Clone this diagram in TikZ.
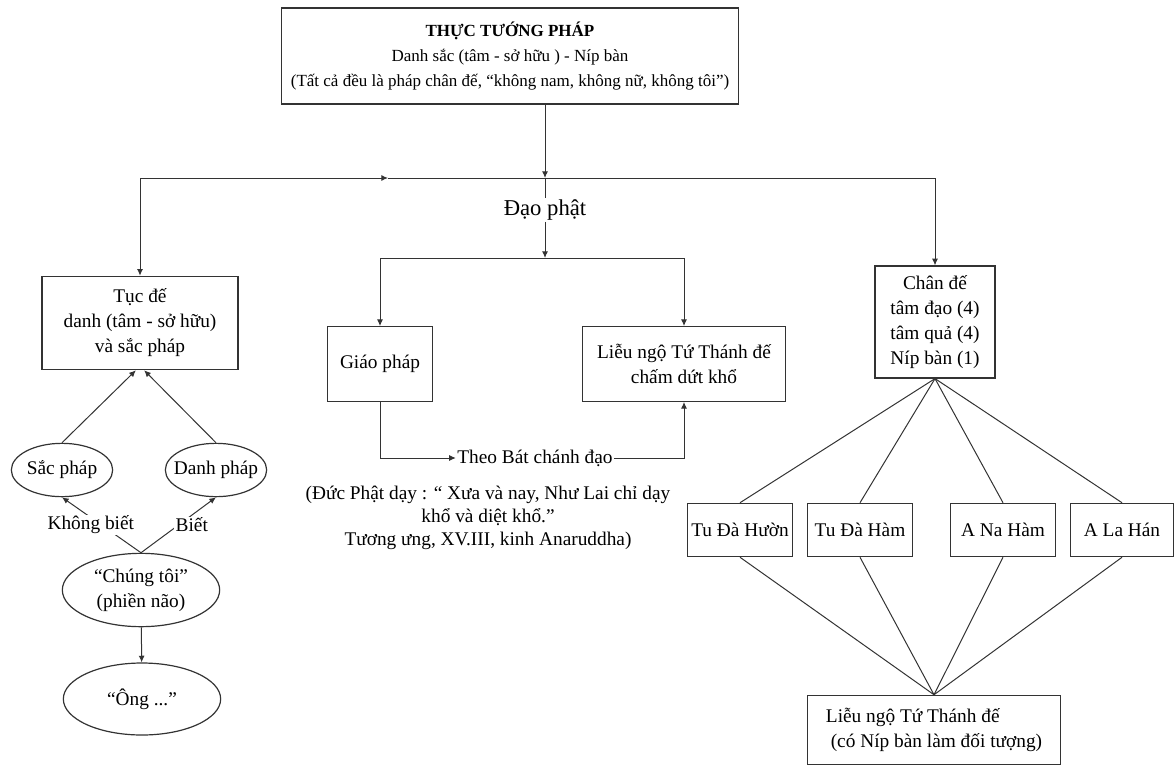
\documentclass[tikz,border=0pt]{standalone}
\usepackage{fontspec}
\setmainfont{Liberation Serif}
\usepackage{tikz}
\usetikzlibrary{shapes.geometric, arrows.meta, positioning, calc}

\begin{document}
\begin{tikzpicture}[x=0.75pt, y=-0.75pt,
  box/.style={rectangle, draw=black!80, line width=0.9pt, align=center, inner sep=2pt, font=\fontsize{14.5}{18.75}\selectfont},
  oval/.style={ellipse, draw=black!80, line width=0.9pt, align=center, inner xsep=-6pt, inner ysep=0pt, font=\fontsize{14.5}{18.75}\selectfont},
  lbl/.style={align=center, inner sep=1pt, fill=white, font=\fontsize{14.5}{18.75}\selectfont},
  arrow/.style={-{Latex[length=5pt, width=4.5pt]}, line width=0.75pt, draw=black!80},
  link/.style={line width=0.75pt, draw=black!80}
]
\useasboundingbox (0,0) rectangle (1176,767);

% top
\node[box, minimum width=343pt, minimum height=72pt, font=\fontsize{12.75}{18.75}\selectfont] (thuctuong) at (510,56)
  {\textbf{THỰC TƯỚNG PHÁP}\\Danh sắc (tâm - sở hữu ) - Níp bàn\\(Tất cả đều là pháp chân đế, “không nam, không nữ, không tôi”)};
\coordinate (j1) at (545,178);
\coordinate (mark) at (388,178);
\node[lbl, font=\fontsize{17}{20}\selectfont] (daophat) at (545,210) {Đạo phật};
\coordinate (j2) at (545,258);

% left: tuc de
\node[box, minimum width=147pt, minimum height=70pt] (tucde) at (140,323)
  {Tục đế\\danh (tâm - sở hữu)\\và sắc pháp};
\node[oval, minimum width=76pt, minimum height=40pt] (sacphap) at (62,470) {Sắc pháp};
\node[oval, minimum width=76pt, minimum height=40pt] (danhphap) at (216,470) {Danh pháp};
\node[oval, minimum width=118pt, minimum height=55pt] (chungtoi) at (141,590) {“Chúng tôi”\\(phiền não)};
\node[oval, minimum width=118pt, minimum height=54pt] (ong) at (142,699) {“Ông ...”};

% middle: giao phap
\node[box, minimum width=79pt, minimum height=56pt] (giaophap) at (380,364) {Giáo pháp};
\node[box, minimum width=152pt, minimum height=56pt] (lieungo) at (684,364) {Liễu ngộ Tứ Thánh đế\\chấm dứt khổ};
\node[lbl] (theobat) at (535,458) {Theo Bát chánh đạo};
\node[align=center, font=\fontsize{14.5}{17.25}\selectfont] (loiday) at (488,518)
  {(Đức Phật dạy : “ Xưa và nay, Như Lai chỉ dạy\\khổ và diệt khổ.”\\Tương ưng, XV.III, kinh Anaruddha)};

% right: chan de
\node[box, minimum width=90pt, minimum height=84pt] (chande) at (935,322)
  {Chân đế\\tâm đạo (4)\\tâm quả (4)\\Níp bàn (1)};
\node[box, minimum width=79pt, minimum height=40pt] (tudahuon) at (740,530) {Tu Đà Hườn};
\node[box, minimum width=79pt, minimum height=40pt] (tudaham) at (860,530) {Tu Đà Hàm};
\node[box, minimum width=79pt, minimum height=40pt] (anaham) at (1003,530) {A Na Hàm};
\node[box, minimum width=77pt, minimum height=40pt] (alahan) at (1122,530) {A La Hán};
\node[box, minimum width=190pt, minimum height=52pt, align=left] (lieungotu) at (934,730)
  {Liễu ngộ Tứ Thánh đế\\\ (có Níp bàn làm đối tượng)};

% connectors
\draw[arrow] (j1 |- thuctuong.south) -- (j1);
\draw[arrow] (j1 -| tucde) -- (mark);
\draw[link] (mark) -- (j1 -| chande);
\draw[arrow] (j1 -| tucde) -- (tucde.north);
\draw[arrow] (j1 -| chande) -- (chande.north);
\draw[link] (j1) -- (daophat);
\draw[arrow] (daophat) -- (j2);
\draw[link] (j2 -| giaophap) -- (j2 -| lieungo);
\draw[arrow] (j2 -| giaophap) -- (giaophap.north);
\draw[arrow] (j2 -| lieungo) -- (lieungo.north);
\draw[arrow] (giaophap.south) |- (theobat.west);
\draw[arrow] (theobat.east) -| (lieungo.south);

\draw[arrow] (sacphap.north) -- (tucde.265);
\draw[arrow] (danhphap.north) -- (tucde.275);
\draw[arrow] (chungtoi.north) -- node[lbl, pos=0.5, xshift=-8pt] {Không biết} (sacphap.south);
\draw[arrow] (chungtoi.north) -- node[lbl, pos=0.5, xshift=10pt] {Biết} (danhphap.south);
\draw[arrow] (chungtoi) -- (ong);

\foreach \t in {tudahuon, tudaham, anaham, alahan} {
  \draw[link] (chande.south) -- (\t.north);
  \draw[link] (\t.south) -- (lieungotu.north);
}
\end{tikzpicture}
\end{document}
